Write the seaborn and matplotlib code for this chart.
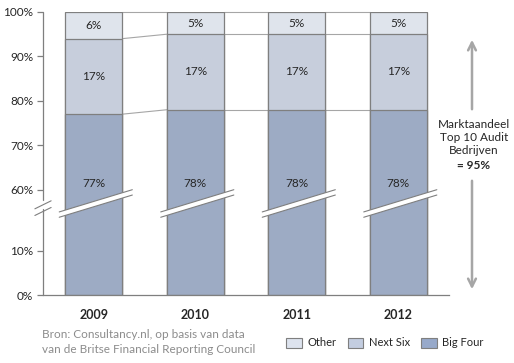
import matplotlib
matplotlib.use('Agg')
import matplotlib.pyplot as plt
import seaborn as sns
import pandas as pd
from matplotlib.patches import Patch, Polygon

# Data
years = ['2009', '2010', '2011', '2012']
big_four = [77, 78, 78, 78]
next_six = [17, 17, 17, 17]
other = [6, 5, 5, 5]
tick_values = [0, 10, 60, 70, 80, 90, 100]
tick_labels = ['0%', '10%', '60%', '70%', '80%', '90%', '100%']
source_text = 'Bron: Consultancy.nl, op basis van data\nvan de Britse Financial Reporting Council'
note_lines = 'Marktaandeel\nTop 10 Audit\nBedrijven'
note_total = '= 95%'

sns.set_theme(style='white')
plt.rcParams['font.family'] = ['Lato', 'DejaVu Sans']

C_BIG = '#97A9CA'
C_NEXT = '#C3CDE0'
C_OTHER = '#DDE3EE'
C_EDGE = '#7F7F7F'
C_LINE = '#A6A6A6'
C_TEXT = '#262626'

# broken axis: 0-10 drawn as is, 60-100 shifted down
LOW_MAX = 10
GAP = 13.7


def vy(r):
    r = float(r)
    return r if r <= LOW_MAX else r - 60 + LOW_MAX + GAP


df = pd.DataFrame({'year': years, 'big': big_four, 'next': next_six, 'other': other})
df['top_next'] = df['big'] + df['next']
df['top_all'] = df['top_next'] + df['other']

W, H = 514, 363
fig = plt.figure(figsize=(W / 100, H / 100), dpi=100)
ax = fig.add_axes([43 / W, 1 - 295 / H, (449 - 43) / W, (295 - 12) / H])

bw = 0.56
for col, c in [('top_all', C_OTHER), ('top_next', C_NEXT), ('big', C_BIG)]:
    sns.barplot(x=df['year'], y=df[col].map(vy), order=years, color=c,
                edgecolor=C_EDGE, linewidth=0.9, width=bw, ax=ax, zorder=2)

ax.set_xlim(-0.5, len(years) - 0.5)
ax.set_ylim(0, vy(100))

# connector lines between bars
for i in range(len(years) - 1):
    for col in ['big', 'top_next', 'top_all']:
        ax.plot([i + bw / 2, i + 1 - bw / 2], [vy(df[col][i]), vy(df[col][i + 1])],
                color=C_LINE, lw=0.8, zorder=1, clip_on=False)

# break bands on bars
band_mid = 20.0
for i in range(len(years)):
    x0, x1 = i - bw / 2 - 0.06, i + bw / 2 + 0.1
    y0, y1 = band_mid - 2.5, band_mid + 2.5
    th = 1.2
    ax.add_patch(Polygon([(x0, y0), (x1, y1), (x1, y1 + th), (x0, y0 + th)],
                         closed=True, facecolor='white', edgecolor='none', zorder=4))
    ax.plot([x0, x1], [y0, y1], color=C_EDGE, lw=0.8, zorder=5)
    ax.plot([x0, x1], [y0 + th, y1 + th], color=C_EDGE, lw=0.8, zorder=5)

# data labels
for i in range(len(years)):
    ax.text(i, vy(61.5), f"{df['big'][i]}%", ha='center', va='center', fontsize=8.5, color=C_TEXT, zorder=6)
    ax.text(i, vy(df['big'][i] + df['next'][i] / 2), f"{df['next'][i]}%", ha='center', va='center',
            fontsize=8.5, color=C_TEXT, zorder=6)
    ax.text(i, vy(df['top_next'][i] + df['other'][i] / 2), f"{df['other'][i]}%", ha='center', va='center',
            fontsize=8.5, color=C_TEXT, zorder=6)

# axes styling
sns.despine(ax=ax, top=True, right=True, left=True)
ax.spines['bottom'].set_color(C_EDGE)
ax.spines['bottom'].set_linewidth(0.9)
ax.set_yticks([vy(v) for v in tick_values])
ax.set_yticklabels(tick_labels, fontsize=8.5, color=C_TEXT)
ax.tick_params(axis='y', length=4, width=0.9, color=C_EDGE, pad=3, left=True)
ax.tick_params(axis='x', length=0, pad=10)
for lab in ax.get_xticklabels():
    lab.set_fontweight('bold')
    lab.set_fontsize(9)
    lab.set_color(C_TEXT)
ax.set_xlabel('')
ax.set_ylabel('')

# y axis in two parts with break marks
ax.plot([-0.5, -0.5], [0, 19.4], color=C_EDGE, lw=0.9, clip_on=False, zorder=3)
ax.plot([-0.5, -0.5], [21.3, vy(100)], color=C_EDGE, lw=0.9, clip_on=False, zorder=3)
for yb in [18.8, 20.3]:
    ax.plot([-0.58, -0.42], [yb - 0.9, yb + 0.9], color=C_EDGE, lw=0.8, clip_on=False, zorder=3)

# right annotation with arrows
xa = 472 / W
ax.annotate('', xy=(xa, 1 - 37 / H), xytext=(xa, 1 - 112 / H), xycoords='figure fraction',
            arrowprops=dict(arrowstyle='->', color=C_LINE, lw=1.8, mutation_scale=14))
ax.annotate('', xy=(xa, 1 - 292 / H), xytext=(xa, 1 - 178 / H), xycoords='figure fraction',
            arrowprops=dict(arrowstyle='->', color=C_LINE, lw=1.8, mutation_scale=14))
fig.text(474 / W, 1 - 137.5 / H, note_lines, ha='center', va='center', fontsize=8.5,
         color=C_TEXT, linespacing=1.25)
fig.text(474 / W, 1 - 166 / H, note_total, ha='center', va='center', fontsize=8.5,
         color=C_TEXT, fontweight='bold')

# source
fig.text(42 / W, 1 - 342 / H, source_text, ha='left', va='center', fontsize=8.5,
         color='#8C8C8C', linespacing=1.55)

# legend
handles = [Patch(facecolor=C_OTHER, edgecolor=C_EDGE, lw=0.8),
           Patch(facecolor=C_NEXT, edgecolor=C_EDGE, lw=0.8),
           Patch(facecolor=C_BIG, edgecolor=C_EDGE, lw=0.8)]
fig.legend(handles, ['Other', 'Next Six', 'Big Four'], loc='center',
           bbox_to_anchor=(385 / W, 1 - 343 / H), ncol=3, frameon=False, fontsize=8,
           handlelength=1.4, handleheight=1.0, handletextpad=0.5, columnspacing=1.0)

fig.savefig('out.png', dpi=100)
